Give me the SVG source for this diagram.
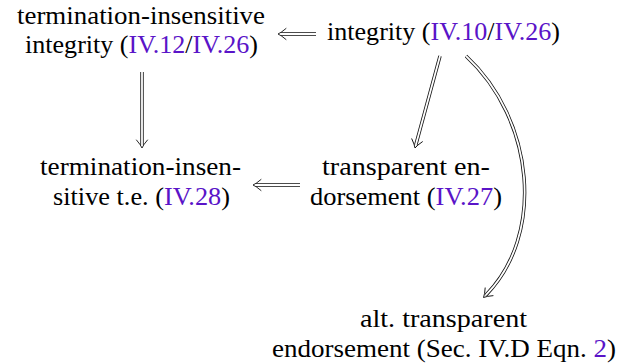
<svg xmlns="http://www.w3.org/2000/svg" xmlns:xlink="http://www.w3.org/1999/xlink" width="638" height="364" viewBox="0 0 638 364" font-family="Liberation Serif, serif">
<style>
.t{font-size:26px;fill:#000}
.ref{fill:#5a14c8}
.outer{fill:none;stroke:#111;stroke-width:3.4}
.inner{fill:none;stroke:#fff;stroke-width:1.8}
.head{fill:none;stroke:#111;stroke-width:0.9;stroke-linecap:round;stroke-linejoin:round}
</style>
<defs>
<path id="head" class="head" d="M-8,-5.5 Q-3,-1.2 0,0 Q-3,1.2 -8,5.5"/>
</defs>
<rect width="638" height="364" fill="#fff"/>
<g id="connectors">
<g id="e-int-tiint">
<path class="outer" d="M316,34 H281"/><path class="inner" d="M316,34 H281"/>
<use xlink:href="#head" href="#head" transform="translate(278,34) rotate(180)"/>
</g>
<g id="e-tiint-tite">
<path class="outer" d="M142,72 V145"/><path class="inner" d="M142,72 V145"/>
<use xlink:href="#head" href="#head" transform="translate(142,148) rotate(90)"/>
</g>
<g id="e-te-tite">
<path class="outer" d="M300,185 H256"/><path class="inner" d="M300,185 H256"/>
<use xlink:href="#head" href="#head" transform="translate(253,185) rotate(180)"/>
</g>
<g id="e-int-te">
<path class="outer" d="M440,56 L415.8,145"/><path class="inner" d="M440,56 L415.8,145"/>
<use xlink:href="#head" href="#head" transform="translate(415,148) rotate(105.2)"/>
</g>
<g id="e-int-alt">
<path class="outer" d="M466,56 C535,120 545,235 485.8,295.2"/><path class="inner" d="M466,56 C535,120 545,235 485.8,295.2"/>
<use xlink:href="#head" href="#head" transform="translate(483.5,297.5) rotate(134.5)"/>
</g>
</g>
<g id="n-tiint" class="t">
<text x="17" y="23.5" font-family="Liberation Serif" textLength="248" lengthAdjust="spacingAndGlyphs">termination-insensitive</text>
<text x="25" y="53" font-family="Liberation Serif" textLength="233" lengthAdjust="spacingAndGlyphs">integrity (<tspan class="ref">IV.12</tspan>/<tspan class="ref">IV.26</tspan>)</text>
</g>
<g id="n-int" class="t">
<text x="327" y="40" font-family="Liberation Serif" textLength="233" lengthAdjust="spacingAndGlyphs">integrity (<tspan class="ref">IV.10</tspan>/<tspan class="ref">IV.26</tspan>)</text>
</g>
<g id="n-tite" class="t">
<text x="40" y="175" font-family="Liberation Serif" textLength="201" lengthAdjust="spacingAndGlyphs">termination-insen-</text>
<text x="53" y="205" font-family="Liberation Serif" textLength="177" lengthAdjust="spacingAndGlyphs">sitive  t.e. (<tspan class="ref">IV.28</tspan>)</text>
</g>
<g id="n-te" class="t">
<text x="322" y="175" font-family="Liberation Serif" textLength="168" lengthAdjust="spacingAndGlyphs">transparent en-</text>
<text x="310" y="205" font-family="Liberation Serif" textLength="192" lengthAdjust="spacingAndGlyphs">dorsement (<tspan class="ref">IV.27</tspan>)</text>
</g>
<g id="n-alt" class="t">
<text x="360" y="327" font-family="Liberation Serif" textLength="167" lengthAdjust="spacingAndGlyphs">alt. transparent</text>
<text x="272" y="357" font-family="Liberation Serif" textLength="344" lengthAdjust="spacingAndGlyphs">endorsement (Sec. IV.D Eqn. <tspan class="ref">2</tspan>)</text>
</g>
</svg>
